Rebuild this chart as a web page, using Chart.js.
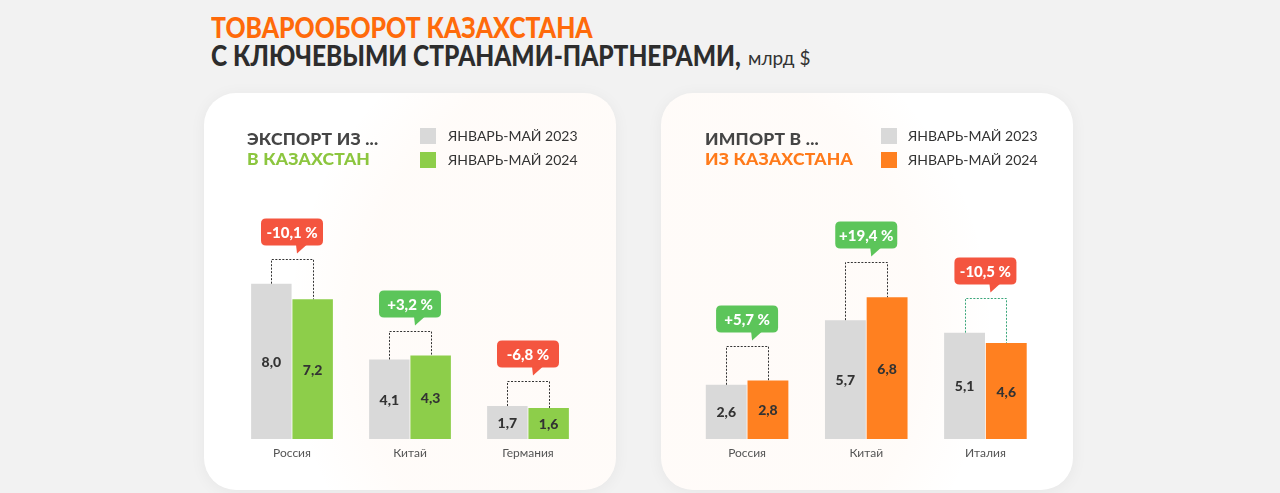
<!DOCTYPE html>
<html><head><meta charset="utf-8">
<script src="https://cdn.jsdelivr.net/npm/chart.js@4"></script>
<style>
html,body{margin:0;padding:0;width:1280px;height:493px;overflow:hidden;background:#f2f2f2;font-family:Lato,"Noto Sans",sans-serif;}
.t{position:absolute;white-space:nowrap;line-height:1;}
.card{position:absolute;top:93px;width:412px;height:397px;background:#fff;border-radius:32px;box-shadow:0 2px 16px rgba(0,0,0,0.05);overflow:hidden;}
.card canvas{position:absolute;left:0;top:0;}
.tint{position:absolute;width:1000px;height:1000px;background:radial-gradient(circle at center, rgba(255,140,60,0.035) 0%, rgba(255,140,60,0.03) 40%, rgba(255,140,60,0) 50%);}
.h{font-weight:900;font-size:17.5px;letter-spacing:0.2px;}
.lg{font-size:14px;color:#333;}
.sq{position:absolute;width:16px;height:16px;}
.big{font-size:28px;font-weight:900;transform-origin:0 0;transform:scaleX(0.885);}
</style></head>
<body>
<div class="t big" style="left:211px;top:13px;color:#ff6a0a;">ТОВАРООБОРОТ КАЗАХСТАНА</div>
<div class="t big" style="left:211px;top:41px;color:#2d2d2d;transform:scaleX(0.875);">С КЛЮЧЕВЫМИ СТРАНАМИ-ПАРТНЕРАМИ,</div>
<div class="t" style="left:748px;top:48px;font-size:19px;color:#333;">млрд $</div>

<div class="card" style="left:204px;">
  <div class="tint" style="left:-64px;top:-263px;"></div>
  <canvas id="c1" width="412" height="397"></canvas>
  <div class="t h" style="left:43px;top:37px;color:#454545;">ЭКСПОРТ ИЗ ...</div>
  <div class="t h" style="left:43px;top:57px;color:#8cc63f;">В КАЗАХСТАН</div>
  <div class="sq" style="left:216px;top:35px;background:#d9d9d9;"></div>
  <div class="sq" style="left:216px;top:59px;background:#8dce4a;"></div>
  <div class="t lg" style="left:244px;top:36px;">ЯНВАРЬ-МАЙ 2023</div>
  <div class="t lg" style="left:244px;top:60px;">ЯНВАРЬ-МАЙ 2024</div>
</div>

<div class="card" style="left:661px;">
  <div class="tint" style="left:-521px;top:-263px;"></div>
  <canvas id="c2" width="412" height="397"></canvas>
  <div class="t h" style="left:44px;top:37px;color:#454545;">ИМПОРТ В ...</div>
  <div class="t h" style="left:44px;top:57px;color:#ff7a1a;">ИЗ КАЗАХСТАНА</div>
  <div class="sq" style="left:220px;top:35px;background:#d9d9d9;"></div>
  <div class="sq" style="left:220px;top:59px;background:#ff8020;"></div>
  <div class="t lg" style="left:247px;top:36px;">ЯНВАРЬ-МАЙ 2023</div>
  <div class="t lg" style="left:247px;top:60px;">ЯНВАРЬ-МАЙ 2024</div>
</div>

<script>
// ---- data ----
const exportCountries = ['Россия', 'Китай', 'Германия'];
const export2023 = [8.0, 4.1, 1.7];
const export2024 = [7.2, 4.3, 1.6];
const exportChange = [-10.1, 3.2, -6.8];

const importCountries = ['Россия', 'Китай', 'Италия'];
const import2023 = [2.6, 5.7, 5.1];
const import2024 = [2.8, 6.8, 4.6];
const importChange = [5.7, 19.4, -10.5];

const seriesLabels = ['ЯНВАРЬ-МАЙ 2023', 'ЯНВАРЬ-МАЙ 2024'];

// ---- helpers ----
const fmt = v => v.toFixed(1).replace('.', ',');
const fmtPct = v => (v > 0 ? '+' : '') + fmt(v) + ' %';

function roundRect(ctx, x, y, w, h, r) {
  ctx.beginPath();
  ctx.moveTo(x + r, y);
  ctx.lineTo(x + w - r, y); ctx.quadraticCurveTo(x + w, y, x + w, y + r);
  ctx.lineTo(x + w, y + h - r); ctx.quadraticCurveTo(x + w, y + h, x + w - r, y + h);
  ctx.lineTo(x + r, y + h); ctx.quadraticCurveTo(x, y + h, x, y + h - r);
  ctx.lineTo(x, y + r); ctx.quadraticCurveTo(x, y, x + r, y);
  ctx.closePath();
}

const annotPlugin = {
  id: 'annot',
  afterDatasetsDraw(chart, args, opts) {
    const ctx = chart.ctx;
    const xs = chart.scales.x;
    const m0 = chart.getDatasetMeta(0), m1 = chart.getDatasetMeta(1);
    ctx.save();
    // category labels under the axis
    ctx.font = '12px Lato';
    ctx.fillStyle = '#555';
    ctx.textAlign = 'center';
    ctx.textBaseline = 'middle';
    chart.data.labels.forEach((lab, i) => {
      ctx.fillText(lab, xs.getPixelForValue(i), chart.chartArea.bottom + 14);
    });
    // values inside bars
    ctx.font = '900 14px Lato';
    ctx.fillStyle = '#333';
    [m0, m1].forEach((m, di) => {
      m.data.forEach((bar, i) => {
        const v = chart.data.datasets[di].data[i];
        ctx.fillText(fmt(v), bar.x, (bar.y + bar.base) / 2 + 1);
      });
    });
    // brackets + bubbles
    m0.data.forEach((b0, i) => {
      const b1 = m1.data[i];
      const top = Math.round(Math.min(b0.y, b1.y) - opts.gap) + 0.5;
      ctx.strokeStyle = (opts.bracketColors && opts.bracketColors[i]) || '#333';
      ctx.lineWidth = 1;
      ctx.setLineDash([2, 1.5]);
      ctx.beginPath();
      ctx.moveTo(Math.round(b0.x) + 0.5, b0.y);
      ctx.lineTo(Math.round(b0.x) + 0.5, top);
      ctx.lineTo(Math.round(b1.x) + 0.5, top);
      ctx.lineTo(Math.round(b1.x) + 0.5, b1.y);
      ctx.stroke();
      ctx.setLineDash([]);
      const ch = opts.changes[i];
      const txt = fmtPct(ch);
      ctx.font = '900 15px Lato';
      const w = 62, h = 27;
      const cx = (b0.x + b1.x) / 2;
      const bottom = top - 14;
      const x = cx - w / 2, y = bottom - h;
      ctx.fillStyle = ch > 0 ? '#5cc55a' : '#f4553f';
      roundRect(ctx, x, y, w, h, 5);
      ctx.fill();
      ctx.beginPath();
      ctx.moveTo(cx + 4, bottom - 1);
      ctx.lineTo(cx + 15, bottom - 1);
      ctx.lineTo(cx + 5, bottom + 8);
      ctx.closePath();
      ctx.fill();
      ctx.fillStyle = '#fff';
      ctx.fillText(txt, cx, y + h / 2 + 1);
    });
    ctx.restore();
  }
};

function makeChart(id, cats, a, b, colB, changes, yMax, pad, catPct, gap, bracketColors) {
  return new Chart(document.getElementById(id), {
    type: 'bar',
    data: {
      labels: cats,
      datasets: [
        { label: seriesLabels[0], data: a, backgroundColor: '#d9d9d9', categoryPercentage: catPct, barPercentage: 0.98 },
        { label: seriesLabels[1], data: b, backgroundColor: colB, categoryPercentage: catPct, barPercentage: 0.98 }
      ]
    },
    options: {
      responsive: false,
      animation: false,
      events: [],
      layout: { padding: pad },
      plugins: { legend: { display: false }, tooltip: { enabled: false }, annot: { changes, gap, bracketColors } },
      scales: {
        x: { display: false },
        y: { display: false, min: 0, max: yMax }
      }
    },
    plugins: [annotPlugin]
  });
}

makeChart('c1', exportCountries, export2023, export2024, '#8dce4a', exportChange, 12,
  { top: 113, bottom: 51, left: 29, right: 29 }, 0.7, 25, null);
makeChart('c2', importCountries, import2023, import2024, '#ff8020', importChange, 10,
  { top: 137.5, bottom: 51, left: 26.5, right: 28 }, 0.7, 35, ['#333', '#333', '#3aa67a']);
</script>
</body></html>
